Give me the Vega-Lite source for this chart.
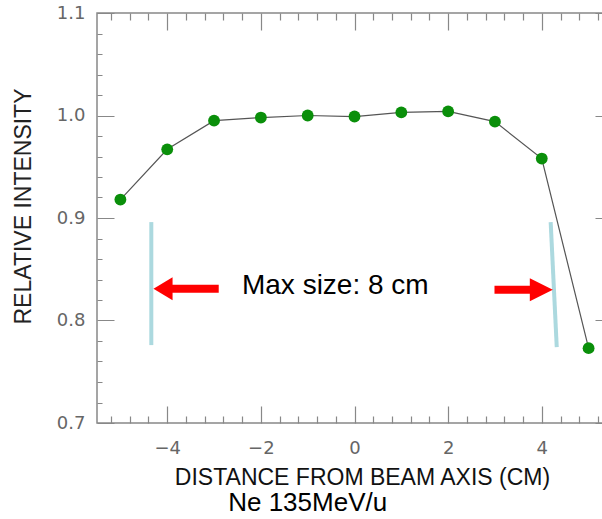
{
  "$schema": "https://vega.github.io/schema/vega-lite/v6.json",
  "width": 515,
  "height": 410,
  "autosize": {"type": "none"},
  "padding": {"left": 97, "top": 13, "right": -10, "bottom": 96},
  "background": "white",
  "config": {"view": {"stroke": "#888888", "strokeWidth": 1.5}},
  "resolve": {"axis": {"x": "independent", "y": "independent"}},
  "datasets": {
    "pts": [
      {"x": -5, "y": 0.918},
      {"x": -4, "y": 0.967},
      {"x": -3, "y": 0.995},
      {"x": -2, "y": 0.998},
      {"x": -1, "y": 1.000},
      {"x": 0, "y": 0.999},
      {"x": 1, "y": 1.003},
      {"x": 2, "y": 1.004},
      {"x": 3, "y": 0.994},
      {"x": 4, "y": 0.958},
      {"x": 5, "y": 0.773}
    ],
    "bars": [
      {"x": -4.34, "y": 0.896, "x2": -4.34, "y2": 0.776},
      {"x": 4.19, "y": 0.896, "x2": 4.32, "y2": 0.774}
    ],
    "shafts": [
      {"x": -3.9, "x2": -2.9, "y": 0.831},
      {"x": 2.99, "x2": 3.76, "y": 0.830}
    ],
    "headL": [{"x": -4.09, "y": 0.831}],
    "headR": [{"x": 3.99, "y": 0.830}],
    "labels": [
      {"x": -0.41, "y": 0.8263, "text": "Max size: 8 cm", "size": 28},
      {"x": -1.0, "y": 0.6137, "text": "Ne 135MeV/u", "size": 26}
    ]
  },
  "layer": [
    {
      "data": {"name": "bars"},
      "mark": {"type": "rule", "strokeWidth": 4, "color": "#acd9df"},
      "encoding": {
        "x": {"field": "x", "type": "quantitative", "scale": {"domain": [-5.5, 5.5], "nice": false},
          "axis": {
            "orient": "bottom",
            "values": [-5.2, -4.8, -4.4, -4.0, -3.6, -3.2, -2.8, -2.4, -2.0, -1.6, -1.2, -0.8, -0.4, 0, 0.4, 0.8, 1.2, 1.6, 2.0, 2.4, 2.8, 3.2, 3.6, 4.0, 4.4, 4.8, 5.2],
            "ticks": false,
            "tickSize": 0,
            "domain": false,
            "grid": true,
            "gridColor": "#888888",
            "gridWidth": 1.2,
            "gridOpacity": 1,
            "gridDash": {"condition": {"test": "abs(datum.value - round(datum.value/2)*2) < 0.01", "value": [17, 376]}, "value": [7, 396]},
            "labelExpr": "abs(datum.value - round(datum.value/2)*2) < 0.01 ? format(datum.value, 'd') : ''",
            "labelOverlap": false,
            "labelFlush": false,
            "labelPadding": 16,
            "labelFont": "DejaVu Sans",
            "labelFontSize": 18,
            "labelColor": "#666666",
            "title": "DISTANCE FROM BEAM AXIS (CM)",
            "titleFont": "Liberation Sans",
            "titleFontSize": 23,
            "titleFontWeight": "normal",
            "titleColor": "#111111",
            "titleX": 265,
            "titleY": 61,
            "titleAlign": "center",
            "titleBaseline": "alphabetic"
          }
        },
        "y": {"field": "y", "type": "quantitative", "scale": {"domain": [0.7, 1.1], "nice": false, "zero": false},
          "axis": {
            "orient": "left",
            "values": [0.70, 0.72, 0.74, 0.76, 0.78, 0.80, 0.82, 0.84, 0.86, 0.88, 0.90, 0.92, 0.94, 0.96, 0.98, 1.00, 1.02, 1.04, 1.06, 1.08, 1.10],
            "ticks": false,
            "tickSize": 0,
            "domain": false,
            "grid": true,
            "gridColor": "#888888",
            "gridWidth": 1.2,
            "gridOpacity": 1,
            "gridDash": {"condition": {"test": "abs(datum.value*10 - round(datum.value*10)) < 0.01", "value": [17, 481]}, "value": [5, 505]},
            "labelExpr": "abs(datum.value*10 - round(datum.value*10)) < 0.01 ? format(datum.value, '.1f') : ''",
            "labelOverlap": false,
            "labelFlush": false,
            "labelPadding": 12,
            "labelFont": "DejaVu Sans",
            "labelFontSize": 18,
            "labelColor": "#666666",
            "title": "RELATIVE INTENSITY",
            "titleFont": "Liberation Sans",
            "titleFontSize": 23,
            "titleFontWeight": "normal",
            "titleColor": "#222222",
            "titleAngle": -90,
            "titleX": -73.5,
            "titleY": 193,
            "titleAlign": "center",
            "titleBaseline": "middle"
          }
        },
        "x2": {"field": "x2"},
        "y2": {"field": "y2"}
      }
    },
    {
      "data": {"name": "shafts"},
      "mark": {"type": "rule", "strokeWidth": 8, "color": "#ff0000"},
      "encoding": {
        "x": {"field": "x", "type": "quantitative", "axis": null},
        "x2": {"field": "x2"},
        "y": {"field": "y", "type": "quantitative", "axis": null}
      }
    },
    {
      "data": {"name": "headL"},
      "mark": {"type": "point", "shape": "M-0.83,0L0.83,-1L0.83,1Z", "size": 529, "filled": true, "color": "#ff0000", "opacity": 1},
      "encoding": {
        "x": {"field": "x", "type": "quantitative", "axis": null},
        "y": {"field": "y", "type": "quantitative", "axis": null}
      }
    },
    {
      "data": {"name": "headR"},
      "mark": {"type": "point", "shape": "M1,0L-1,-1L-1,1Z", "size": 529, "filled": true, "color": "#ff0000", "opacity": 1},
      "encoding": {
        "x": {"field": "x", "type": "quantitative", "axis": null},
        "y": {"field": "y", "type": "quantitative", "axis": null}
      }
    },
    {
      "data": {"name": "labels"},
      "mark": {"type": "text", "font": "Liberation Sans", "color": "black", "align": "center", "baseline": "alphabetic"},
      "encoding": {
        "x": {"field": "x", "type": "quantitative", "axis": null},
        "y": {"field": "y", "type": "quantitative", "axis": null},
        "text": {"field": "text"},
        "size": {"field": "size", "type": "quantitative", "scale": null}
      }
    },
    {
      "data": {"name": "pts"},
      "mark": {"type": "line", "color": "#555555", "strokeWidth": 1.2},
      "encoding": {
        "x": {"field": "x", "type": "quantitative", "axis": null},
        "y": {"field": "y", "type": "quantitative", "axis": null}
      }
    },
    {
      "data": {"name": "pts"},
      "mark": {"type": "point", "filled": true, "size": 140, "color": "#0a8f0a", "opacity": 1},
      "encoding": {
        "x": {"field": "x", "type": "quantitative", "axis": null},
        "y": {"field": "y", "type": "quantitative", "axis": null}
      }
    }
  ]
}
